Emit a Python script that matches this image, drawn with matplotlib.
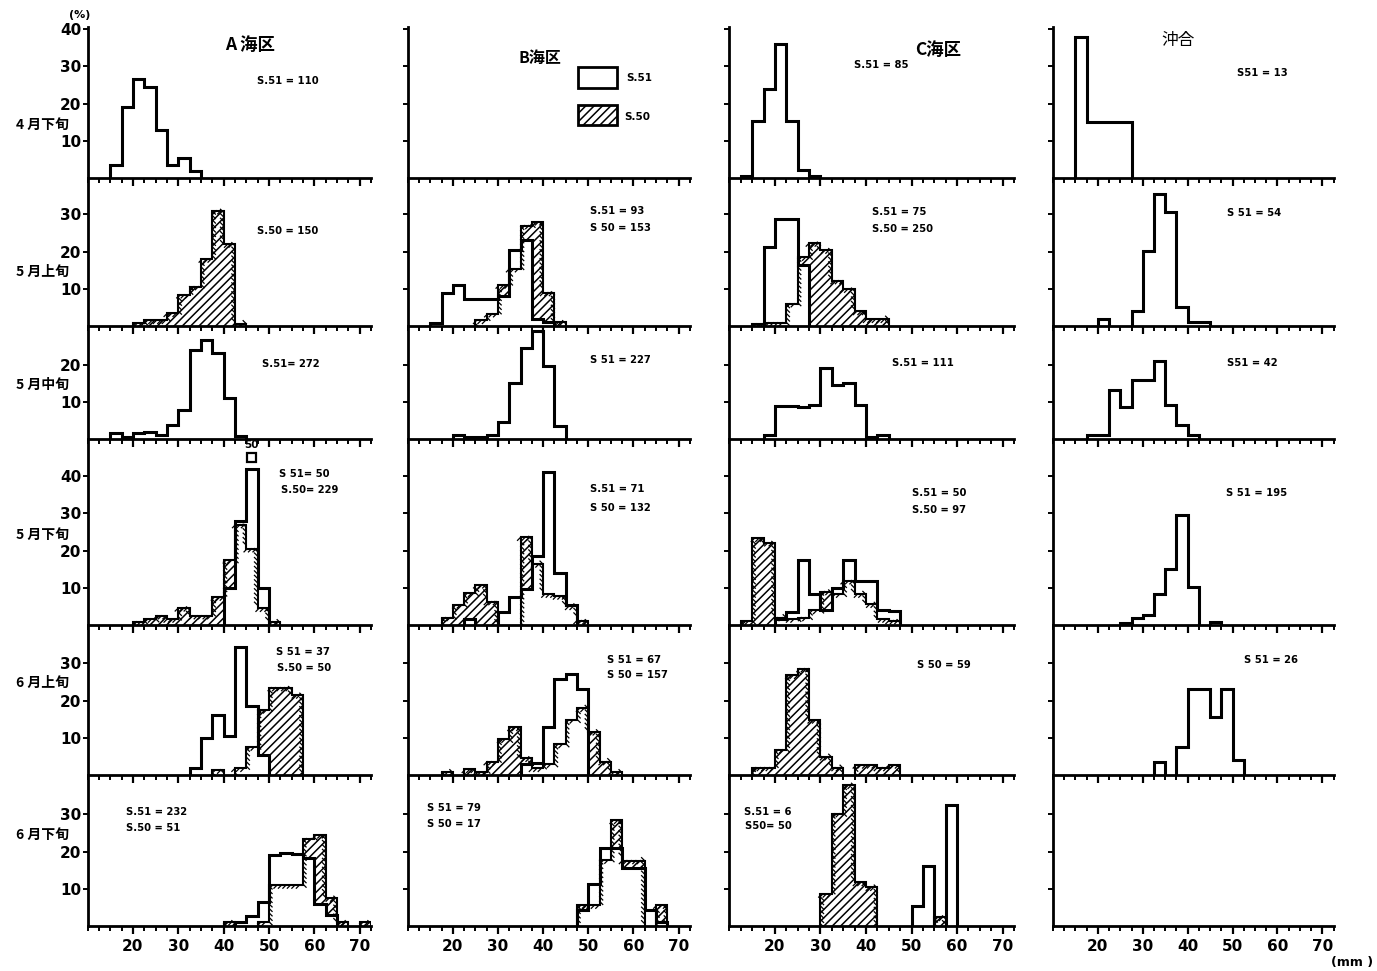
import numpy as np
import matplotlib
matplotlib.use('Agg')
import matplotlib.pyplot as plt
from matplotlib import patheffects
from matplotlib.patches import Rectangle
from matplotlib.ticker import MultipleLocator

plt.rcParams['font.family'] = ['Noto Sans CJK JP', 'DejaVu Sans']
plt.rcParams['hatch.linewidth'] = 1.1

# length classes (mm), 2.5 mm wide: 12.5-15, 15-17.5, ... 70-72.5
bin_edges = np.arange(12.5, 72.6, 2.5)
n_bins = len(bin_edges) - 1

areas = ['A 海区', 'B海区', 'C海区', '沖合']
periods = ['4 月下旬', '5 月上旬', '5 月中旬', '5 月下旬', '6 月上旬', '6 月下旬']
row_yticks = [[10, 20, 30, 40], [10, 20, 30], [10, 20], [10, 20, 30, 40],
              [10, 20, 30], [10, 20, 30]]

# each series: (lower edge of first class in mm, percentages per class)
# A 海区
a_1_s51 = (15, [3.5, 19, 26.5, 24.5, 13, 3.5, 5.5, 2])
a_2_s50 = (20, [0.7, 1.5, 1.5, 3.4, 8.4, 10.6, 18, 31, 22, 0.6])
a_3_s51 = (15, [1.5, 0.5, 1.5, 2, 1, 3.8, 7.8, 23.8, 26.5, 23, 11, 0.8])
a_4_s51 = (40, [10, 28, 42, 10])
a_4_s50 = (20, [0.9, 1.6, 2.5, 1.6, 4.6, 2.5, 2.5, 7.5, 17.5, 27, 20.5, 4.5, 0.9])
a_5_s51 = (32.5, [2, 10, 16, 10.5, 34.5, 18.5, 5.5])
a_5_s50 = (37.5, [1.3, 0, 1.8, 7.5, 17.5, 23.5, 23.5, 21.5])
a_6_s51 = (42.5, [1.1, 2.7, 6.4, 19, 19.7, 19.4, 18.2, 6, 3])
a_6_s50 = (40, [1.1, 0, 0, 1, 11, 11, 11, 23.5, 24.5, 7.5, 1, 0, 1])
# B 海区
b_2_s51 = (15, [0.8, 9, 11, 7.2, 7.2, 7.2, 8, 20.3, 23, 2, 1])
b_2_s50 = (25, [1.5, 3.3, 11, 15.4, 27, 28, 9, 1])
b_3_s51 = (20, [1.2, 0.6, 0.6, 1.2, 4.5, 15, 24.5, 29, 19.7, 3.6])
b_4_s51 = (22.5, [1.6, 0, 0, 3.4, 7.4, 9.7, 18.6, 41, 14, 5.5])
b_4_s50 = (17.5, [2, 5.4, 8.5, 10.8, 6.3, 0, 0, 23.6, 16.4, 8.3, 7.8, 5, 1.2])
b_5_s51 = (35, [3, 3.2, 12.9, 25.9, 27.2, 23.2])
b_5_s50 = (17.5, [0.7, 0, 1.5, 0.7, 3.6, 9.6, 12.8, 4.5, 1.8, 2.9, 8.2, 14.8, 17.9,
                  11.6, 3.6, 0.8])
b_6_s51 = (47.5, [4.2, 11.3, 21, 21, 15.5, 15.5, 4.2, 1])
b_6_s50 = (47.5, [5.6, 5.6, 17.7, 28.4, 17.6, 17.6, 0, 5.6])
# C 海区
c_1_s51 = (12.5, [0.5, 15.3, 24, 36.1, 15.3, 2.1, 0.5])
c_2_s51 = (17.5, [21.2, 28.8, 28.8, 16.5])
c_2_s50 = (15, [0.6, 0.9, 0.9, 6, 18.5, 22.3, 20.4, 12.2, 9.9, 3.9, 1.8, 1.8])
c_3_s51 = (17.5, [1, 9, 9, 8.6, 9.2, 19.1, 14.6, 15, 9.2, 0.6, 1.1])
c_4_s51 = (20, [1.5, 3.6, 17.6, 8.3, 3.9, 9.9, 17.6, 11.9, 11.9, 4, 3.7])
c_4_s50 = (12.5, [1, 23.3, 22.1, 2, 1.6, 2, 3.9, 9, 8.3, 11.9, 8.3, 5.6, 1.6, 1.2])
c_5_s50 = (15, [2, 2, 6.8, 26.8, 28.6, 14.8, 4.9, 2, 0, 2.7, 2.7, 2, 2.7])
c_6_s51 = (50, [5.4, 16.2, 0, 32.6])
c_6_s50 = (30, [8.6, 30.2, 37.8, 11.7, 10.4, 0, 0, 0, 0, 0, 2.3])
# 沖合
d_1_s51 = (15, [38, 15, 15, 15, 15])
d_2_s51 = (20, [2, 0, 0, 4, 20.2, 35.4, 30.6, 5.2, 1.2, 1.2])
d_3_s51 = (17.5, [1.1, 1.1, 13.2, 8.6, 15.8, 15.8, 20.9, 9.2, 3.8, 1.1])
d_4_s51 = (25, [0.5, 1.8, 2.7, 8.4, 15.1, 29.7, 10.2, 0, 0.9])
d_5_s51 = (32.5, [3.6, 0, 7.5, 23.2, 23.2, 15.5, 23.2, 3.9])

panel_series = {
    (0, 0): (a_1_s51, None), (0, 1): (None, a_2_s50), (0, 2): (a_3_s51, None),
    (0, 3): (a_4_s51, a_4_s50), (0, 4): (a_5_s51, a_5_s50), (0, 5): (a_6_s51, a_6_s50),
    (1, 1): (b_2_s51, b_2_s50), (1, 2): (b_3_s51, None), (1, 3): (b_4_s51, b_4_s50),
    (1, 4): (b_5_s51, b_5_s50), (1, 5): (b_6_s51, b_6_s50),
    (2, 0): (c_1_s51, None), (2, 1): (c_2_s51, c_2_s50), (2, 2): (c_3_s51, None),
    (2, 3): (c_4_s51, c_4_s50), (2, 4): (None, c_5_s50), (2, 5): (c_6_s51, c_6_s50),
    (3, 0): (d_1_s51, None), (3, 1): (d_2_s51, None), (3, 2): (d_3_s51, None),
    (3, 3): (d_4_s51, None), (3, 4): (d_5_s51, None),
}

# sample sizes written in each panel
panel_notes = [
    (0, 0, 'S.51 = 110', 257, 81), (0, 1, 'S.50 = 150', 257, 231),
    (0, 2, 'S.51= 272', 262, 364),
    (0, 3, 'S 51= 50', 279, 474), (0, 3, 'S.50= 229', 281, 490),
    (0, 4, 'S 51 = 37', 276, 652), (0, 4, 'S.50 = 50', 277, 668),
    (0, 5, 'S.51 = 232', 126, 812), (0, 5, 'S.50 = 51', 126, 828),
    (1, 1, 'S.51 = 93', 590, 211), (1, 1, 'S 50 = 153', 590, 228),
    (1, 2, 'S 51 = 227', 590, 360),
    (1, 3, 'S.51 = 71', 590, 489), (1, 3, 'S 50 = 132', 590, 508),
    (1, 4, 'S 51 = 67', 607, 660), (1, 4, 'S 50 = 157', 607, 675),
    (1, 5, 'S 51 = 79', 427, 808), (1, 5, 'S 50 = 17', 427, 824),
    (2, 0, 'S.51 = 85', 854, 65),
    (2, 1, 'S.51 = 75', 872, 212), (2, 1, 'S.50 = 250', 872, 229),
    (2, 2, 'S.51 = 111', 892, 363),
    (2, 3, 'S.51 = 50', 912, 493), (2, 3, 'S.50 = 97', 912, 510),
    (2, 4, 'S 50 = 59', 917, 665),
    (2, 5, 'S.51 = 6', 744, 812), (2, 5, 'S50= 50', 745, 826),
    (3, 0, 'S51 = 13', 1237, 73), (3, 1, 'S 51 = 54', 1227, 213),
    (3, 2, 'S51 = 42', 1227, 363), (3, 3, 'S 51 = 195', 1226, 493),
    (3, 4, 'S 51 = 26', 1244, 660),
]


def to_array(series):
    v = np.zeros(n_bins)
    if series is None:
        return v
    start, vals = series
    i0 = int(round((start - bin_edges[0]) / 2.5))
    v[i0:i0 + len(vals)] = vals
    return v


def runs(v):
    out, i = [], 0
    while i < len(v):
        if v[i] > 0:
            j = i
            while j + 1 < len(v) and v[j + 1] > 0:
                j += 1
            out.append((i, j))
            i = j + 1
        else:
            i += 1
    return out


def step_xy(v, i, j):
    x = np.repeat(bin_edges[i:j + 2], 2)
    y = np.concatenate([[0], np.repeat(v[i:j + 1], 2), [0]])
    return x, y


W, H = 1377, 971
fig = plt.figure(figsize=(W / 100, H / 100), dpi=100)
fig.patch.set_facecolor('white')

col_left = [87.6, 407.8, 729.4, 1053]
col_width = [283.8, 282.5, 285, 281]
row_top = [27, 178, 326, 439, 625, 775]
row_bot = [178, 326, 439, 625, 775, 926]
px_per_pct = 3.72
hatch = '////'
fringe = [patheffects.withTickedStroke(angle=-135, spacing=3.2, length=1.0,
                                       linewidth=0.9)]

axes = {}
for c in range(4):
    for r in range(6):
        t, b = row_top[r], row_bot[r]
        ax = fig.add_axes([col_left[c] / W, 1 - b / H, col_width[c] / W, (b - t) / H])
        ax.set_facecolor('none')
        ax.set_xlim(10, 72.6)
        ax.set_ylim(0, (b - t) / px_per_pct)
        for s in ('top', 'right'):
            ax.spines[s].set_visible(False)
        for s in ('left', 'bottom'):
            ax.spines[s].set_linewidth(2.0)
        ax.xaxis.set_minor_locator(MultipleLocator(2.5))
        ax.set_yticks(row_yticks[r])
        ax.tick_params(axis='x', which='major', length=6, width=1.6, direction='out')
        ax.tick_params(axis='x', which='minor', length=3.5, width=1.4, direction='out')
        ax.tick_params(axis='y', which='major', length=3.5, width=1.4, direction='out')
        ax.set_xticks(range(20, 71, 10))
        if r == 5:
            ax.set_xticklabels([str(v) for v in range(20, 71, 10)],
                               fontsize=11, fontweight='bold', family='DejaVu Sans')
        else:
            ax.set_xticklabels([])
        if c == 0:
            ax.set_yticklabels([str(v) for v in row_yticks[r]],
                               fontsize=11, fontweight='bold', family='DejaVu Sans')
            ax.tick_params(axis='y', pad=1)
        else:
            ax.set_yticklabels([])
        axes[(c, r)] = ax

for (c, r), (ser51, ser50) in panel_series.items():
    ax = axes[(c, r)]
    s51 = to_array(ser51)
    s50 = to_array(ser50)
    # S.50 hatched where it rises above S.51
    m = s50 > s51
    if m.any():
        ax.bar(bin_edges[:-1][m], (s50 - s51)[m], width=2.5, bottom=s51[m],
               align='edge', facecolor='none', edgecolor='black', linewidth=0,
               hatch=hatch)
    for i, j in runs(s50):
        x, y = step_xy(s50, i, j)
        ax.plot(x, y, color='black', lw=1.5, solid_joinstyle='miter',
                path_effects=fringe)
    for i, j in runs(s51):
        x, y = step_xy(s51, i, j)
        ax.plot(x, y, color='black', lw=2.2, solid_joinstyle='miter')

# off-scale mark on the tallest A bar of late May
ax = axes[(0, 3)]
ax.add_patch(Rectangle((45.2, 43.8), 2.0, 2.4, fill=False, lw=1.6, ec='black'))
ax.text(46.2, 47.0, '50', ha='center', va='bottom', fontsize=7.5,
        fontweight='bold', family='DejaVu Sans')


def ftext(x, y, s, **kw):
    fig.text(x / W, 1 - y / H, s, **kw)


for c, r, s, x, y in panel_notes:
    ftext(x, y, s, ha='left', va='center', fontsize=7.2, fontweight='bold',
          family='DejaVu Sans')

for r, lab in enumerate(periods):
    ftext(42, [125, 272, 385, 535, 683, 835][r], lab, ha='center', va='center',
          fontsize=10, fontweight='bold')

ftext(250, 45, areas[0], ha='center', va='center', fontsize=12.5, fontweight='bold')
ftext(540, 58, areas[1], ha='center', va='center', fontsize=11.5, fontweight='bold')
ftext(938, 50, areas[2], ha='center', va='center', fontsize=12.5, fontweight='bold')
ftext(1178, 40, areas[3], ha='center', va='center', fontsize=12)

# legend
fig.add_artist(Rectangle((578 / W, 1 - 88 / H), 39 / W, 21 / H, transform=fig.transFigure,
                         fill=False, lw=2, ec='black'))
fig.add_artist(Rectangle((578 / W, 1 - 125 / H), 39 / W, 20 / H, transform=fig.transFigure,
                         facecolor='none', lw=2, ec='black', hatch=hatch))
ftext(626, 78, 'S.51', ha='left', va='center', fontsize=7.5, fontweight='bold',
      family='DejaVu Sans')
ftext(624, 117, 'S.50', ha='left', va='center', fontsize=7.5, fontweight='bold',
      family='DejaVu Sans')

ftext(80, 15, '(%)', ha='center', va='center', fontsize=8, fontweight='bold',
      family='DejaVu Sans')
ftext(1352, 962, '(mm )', ha='center', va='center', fontsize=9, fontweight='bold',
      family='DejaVu Sans')

fig.savefig('out.png', dpi=100, facecolor='white')
